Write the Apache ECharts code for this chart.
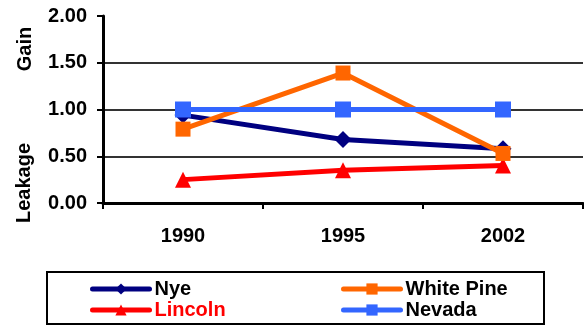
<!DOCTYPE html>
<html>
<head>
<meta charset="utf-8">
<script src="https://cdn.jsdelivr.net/npm/echarts@6/dist/echarts.min.js"></script>
<style>
  html, body { margin: 0; padding: 0; background: #fff; }
  #chart { width: 584px; height: 326px; }
</style>
</head>
<body>
<div id="chart"></div>
<script>
// Categories and values per county / state
const years = ['1990', '1995', '2002'];
const nye = [0.94, 0.68, 0.58];
const whitePine = [0.79, 1.39, 0.53];
const lincoln = [0.25, 0.35, 0.40];
const nevada = [1.00, 1.00, 1.00];
const yTicks = { min: 0, max: 2, interval: 0.5 };

const FONT = '"Liberation Sans", Arial, sans-serif';
const chart = echarts.init(document.getElementById('chart'), null, { renderer: 'canvas' });

function lineSeries(name, data, color, symbol, size, z) {
  return {
    name, type: 'line', data, z,
    symbol, symbolSize: size,
    lineStyle: { color, width: 5 },
    itemStyle: { color },
    emphasis: { disabled: true },
    animation: false
  };
}

// one legend entry per box, placed in a 2x2 arrangement
function legendEntry(name, left, top, textColor) {
  return {
    left, top,
    itemWidth: 57, itemHeight: 14, itemGap: 0,
    selectedMode: false,
    lineStyle: { width: 5, cap: 'round' },
    textStyle: { fontFamily: FONT, fontWeight: 'bold', fontSize: 20, color: textColor || '#000' },
    data: [{ name }]
  };
}

chart.setOption({
  animation: false,
  grid: { left: 103, right: 1, top: 16, bottom: 123, containLabel: false },
  xAxis: {
    type: 'category', data: years, boundaryGap: true,
    axisLine: { lineStyle: { color: '#000', width: 3 } },
    axisTick: { show: true, length: 6, lineStyle: { color: '#000', width: 2 } },
    axisLabel: { fontFamily: FONT, fontWeight: 'bold', fontSize: 20, color: '#000', margin: 23 },
    splitLine: { show: false }
  },
  yAxis: {
    type: 'value', min: yTicks.min, max: yTicks.max, interval: yTicks.interval,
    axisLine: { show: true, lineStyle: { color: '#000', width: 3 } },
    axisTick: { show: true, length: 6, lineStyle: { color: '#000', width: 2 } },
    axisLabel: {
      fontFamily: FONT, fontWeight: 'bold', fontSize: 20, color: '#000', margin: 16,
      formatter: v => v.toFixed(2)
    },
    splitLine: { show: true, showMaxLine: false, lineStyle: { color: '#333', width: 2 } }
  },
  legend: [
    legendEntry('Nye', 85, 274),
    legendEntry('Lincoln', 85, 295, '#ff0000'),
    legendEntry('White Pine', 336, 274),
    legendEntry('Nevada', 336, 295)
  ],
  graphic: [
    {
      type: 'rect', silent: true,
      shape: { x: 47, y: 272, width: 497, height: 52 },
      style: { fill: 'none', stroke: '#000', lineWidth: 2 }
    },
    {
      type: 'text', x: 25, y: 49, rotation: Math.PI / 2,
      style: { text: 'Gain', font: 'bold 20px ' + FONT, fill: '#000', align: 'center', verticalAlign: 'middle' }
    },
    {
      type: 'text', x: 24, y: 183, rotation: Math.PI / 2,
      style: { text: 'Leakage', font: 'bold 20px ' + FONT, fill: '#000', align: 'center', verticalAlign: 'middle' }
    }
  ],
  series: [
    lineSeries('Nye', nye, '#000080', 'diamond', 17, 2),
    lineSeries('Lincoln', lincoln, '#ff0000', 'triangle', 16, 3),
    lineSeries('White Pine', whitePine, '#ff6600', 'rect', 15, 4),
    lineSeries('Nevada', nevada, '#3366ff', 'rect', 16, 5)
  ]
});
</script>
</body>
</html>
